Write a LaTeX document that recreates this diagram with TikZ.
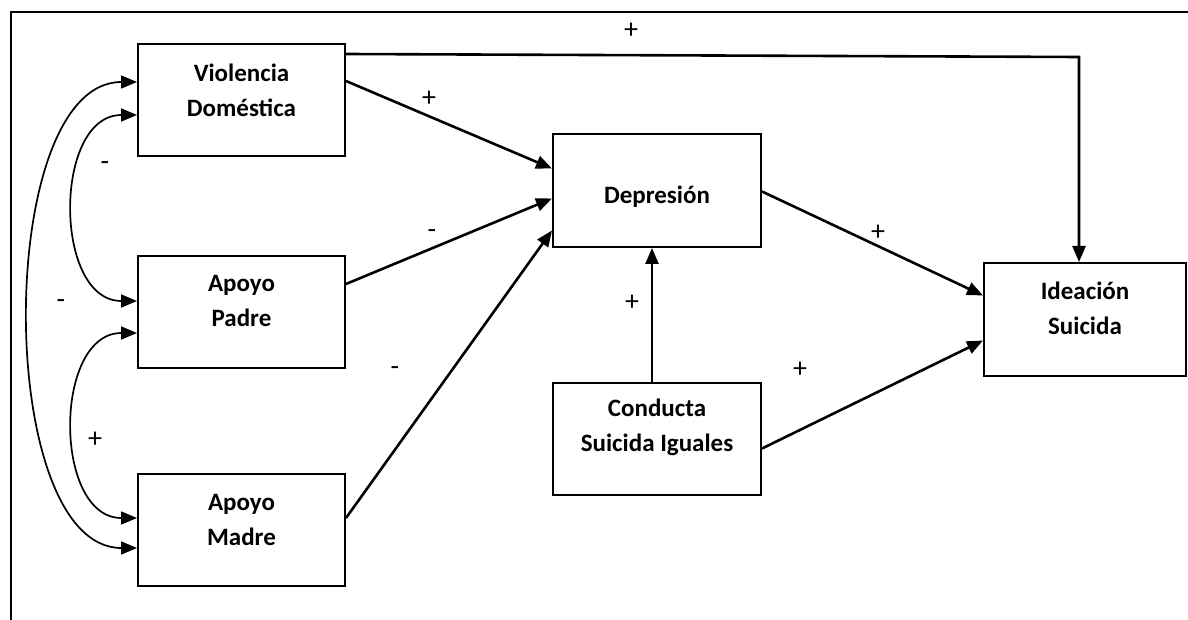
\documentclass[tikz,border=0pt]{standalone}
\usepackage{fontspec}
\setmainfont{Carlito}
\usetikzlibrary{arrows.meta}

\begin{document}
\begin{tikzpicture}[x=1pt, y=-1pt,
		caja/.style = {draw, line width=2pt, minimum width=207pt, minimum height=112pt, inner sep=0pt},
		texto/.style = {align=center, font=\fontsize{25}{35}\selectfont\bfseries},
		signo/.style = {font=\fontsize{28}{30}\selectfont}]

			\def\W{1188};
			\def\H{620};

			\useasboundingbox (0,0) rectangle (\W,\H);
			\draw [line width=2.6pt] (\W,12) -- (11,12) -- (11,\H);

			% cajas
			\node [caja] (vd)  at (241.5,100) {};
			\node [caja] (ap)  at (241.5,312) {};
			\node [caja] (am)  at (241.5,530) {};
			\node [caja, minimum width=208pt, minimum height=113pt] (dep) at (657,190.5) {};
			\node [caja, minimum width=208pt] (csi) at (657,438.5) {};
			\node [caja, minimum width=202pt, minimum height=113pt] (ide) at (1085,319.5) {};

			\node [texto] (vd-t)  at (241.5,90)  {Violencia\\Doméstica};
			\node [texto] (ap-t)  at (241.5,300.5) {Apoyo\\Padre};
			\node [texto] (am-t)  at (241.5,519.5) {Apoyo\\Madre};
			\node [texto] (dep-t) at (657,197)   {Depresión};
			\node [texto] (csi-t) at (657,427.5) {Conducta\\Suicida Iguales};
			\node [texto] (ide-t) at (1085,308.5) {Ideación\\Suicida};

			\coordinate (codo) at (1079,57);

			\begin{scope}[line width=2.6pt, -{Triangle[length=16pt, width=13pt]}]
				\draw ([yshift=19]vd.east) -- ([yshift=22]dep.west);
				\draw ([yshift=28]ap.east) -- ([yshift=-8]dep.west);
				\draw ([yshift=12]am.east) -- ([yshift=-40]dep.west);
				\draw ([yshift=-1]dep.east) -- ([yshift=24]ide.west);
				\draw ([yshift=-10]csi.east) -- ([yshift=-21]ide.west);
				\draw ([xshift=-5]csi.north) -- ([xshift=-5]dep.south);
				\draw ([yshift=46]vd.east) -- (codo) -- (ide.north -| codo);
			\end{scope}

			\begin{scope}[line width=1.7pt, {Triangle[length=16pt, width=13pt]}-{Triangle[length=16pt, width=13pt]}]
				\draw ([yshift=18]vd.west) .. controls +(-143,0) and +(-143,0) .. ([yshift=-18]am.west);
				\draw ([yshift=-15]vd.west) .. controls +(-84,0) and +(-84,0) .. ([yshift=11]ap.west);
				\draw ([yshift=-21]ap.west) .. controls +(-84,0) and +(-84,0) .. ([yshift=12]am.west);
			\end{scope}

			% signos
			\node [signo] (s1) at (631,31)  {+};
			\node [signo] (s2) at (429,99)  {+};
			\node [signo] (s3) at (432,234) {-};
			\node [signo] (s4) at (395,371) {-};
			\node [signo] (s5) at (878,233) {+};
			\node [signo] (s6) at (632,303) {+};
			\node [signo] (s7) at (800,370) {+};
			\node [signo] (s8) at (105,166) {-};
			\node [signo] (s9) at (61,304)  {-};
			\node [signo] (s10) at (95,440) {+};
		\end{tikzpicture}
\end{document}
